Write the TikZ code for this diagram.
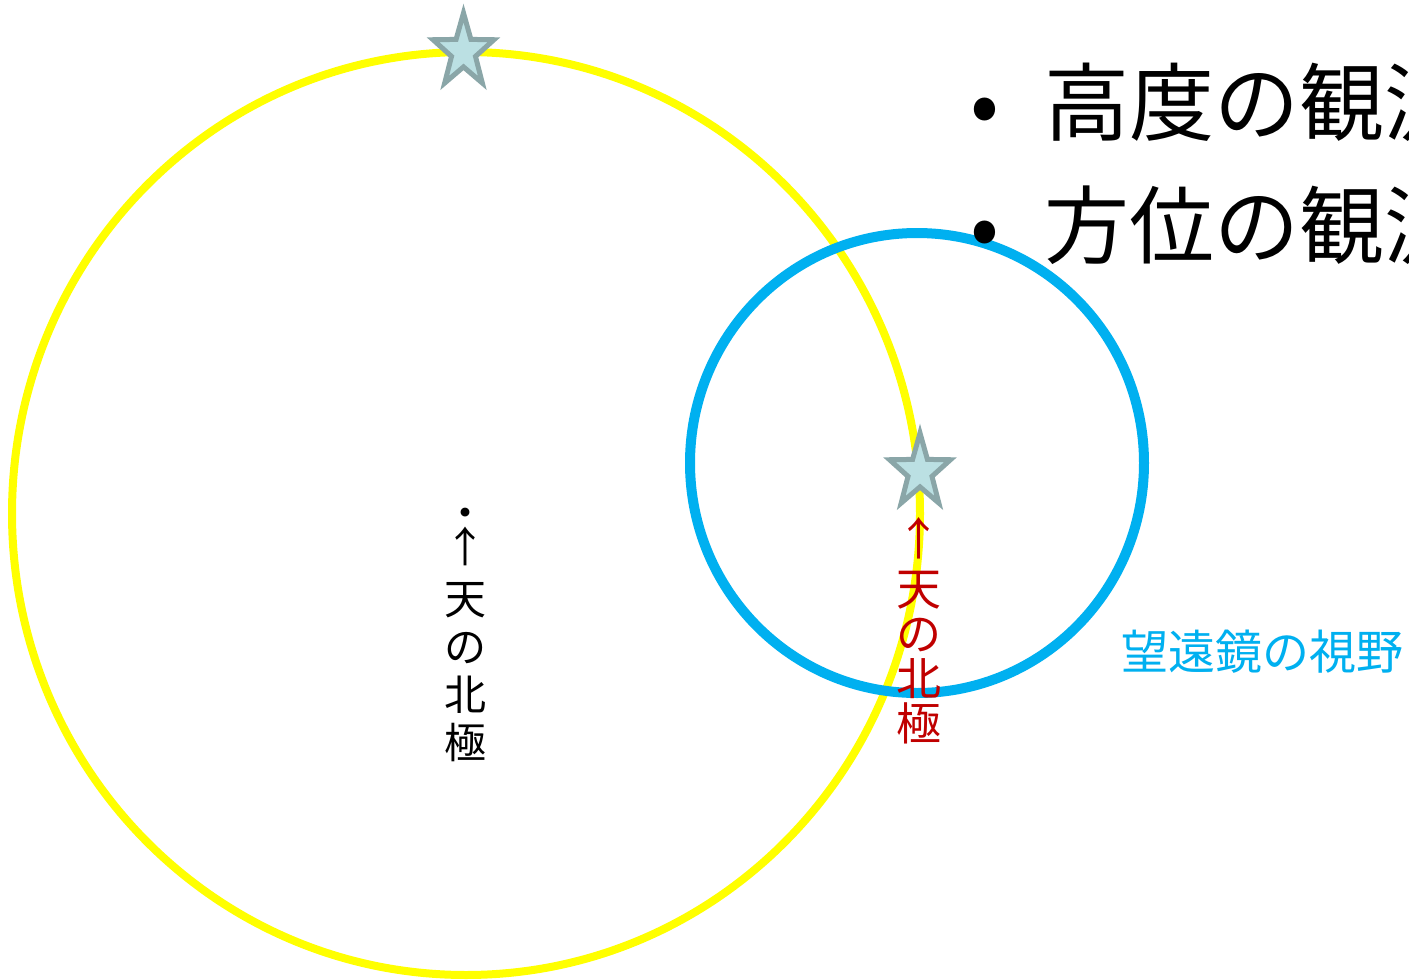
\documentclass[tikz,border=0pt]{standalone}
\usepackage{fontspec}
\setmainfont{Noto Sans CJK JP}
\definecolor{ringyellow}{HTML}{FFFF00}
\definecolor{ringblue}{HTML}{00B0F0}
\definecolor{starfill}{HTML}{BBE0E3}
\definecolor{starline}{HTML}{8AA6A8}
\definecolor{polered}{HTML}{C00000}
\tikzset{
  yellowring/.style={draw=ringyellow, line width=8pt},
  bluering/.style={draw=ringblue, line width=10pt},
  starshape/.style={draw=starline, fill=starfill, line width=5pt, line join=miter},
  pics/astar/.style={code={
    \draw[starshape] (-90:32 and 38.7)
      \foreach \k in {0,...,4}{ -- ({-90+72*\k}:32 and 38.7) -- ({-54+72*\k}:12.6 and 15.2)} -- cycle;
  }},
  bigtext/.style={font=\fontsize{85}{85}\selectfont, anchor=base west, inner sep=0pt},
  verttext/.style={align=center, anchor=north, inner sep=0pt}
}
\begin{document}
\begin{tikzpicture}[x=1pt,y=-1pt]
\useasboundingbox (0,0) rectangle (1409,980);
\clip (0,0) rectangle (1409,980);
\fill[white] (0,0) rectangle (1409,980);
% circles
\draw[yellowring] (466,513.5) ellipse [x radius=454pt, y radius=461.5pt];
\draw[bluering] (917,463) ellipse [x radius=227pt, y radius=230pt];
% stars
\coordinate (s1) at (463.5,51.7);
\coordinate (s2) at (920,471.7);
\pic at (s1) {astar};
\pic at (s2) {astar};
% bullet text
\node[bigtext] (t1) at (985,134) {\makebox[0pt]{•}\hspace{59pt}高度の観測};
\node[bigtext] (t2) at (985,257) {\makebox[0pt]{•}\hspace{59pt}方位の観測};
% vertical labels
\node[verttext, font=\fontsize{42}{48}\selectfont] (np1) at (465,508)
  {・\\[-14pt]↑\\[4pt]天\\の\\北\\極};
\node[verttext, text=polered, font=\fontsize{45}{45}\selectfont] (np2) at (919,517)
  {↑\\[5pt]天\\の\\北\\極};
% telescope field label
\node[anchor=base west, inner sep=0pt, text=ringblue, font=\fontsize{47}{47}\selectfont] (fov) at (1121,669) {望遠鏡の視野};
\end{tikzpicture}
\end{document}
